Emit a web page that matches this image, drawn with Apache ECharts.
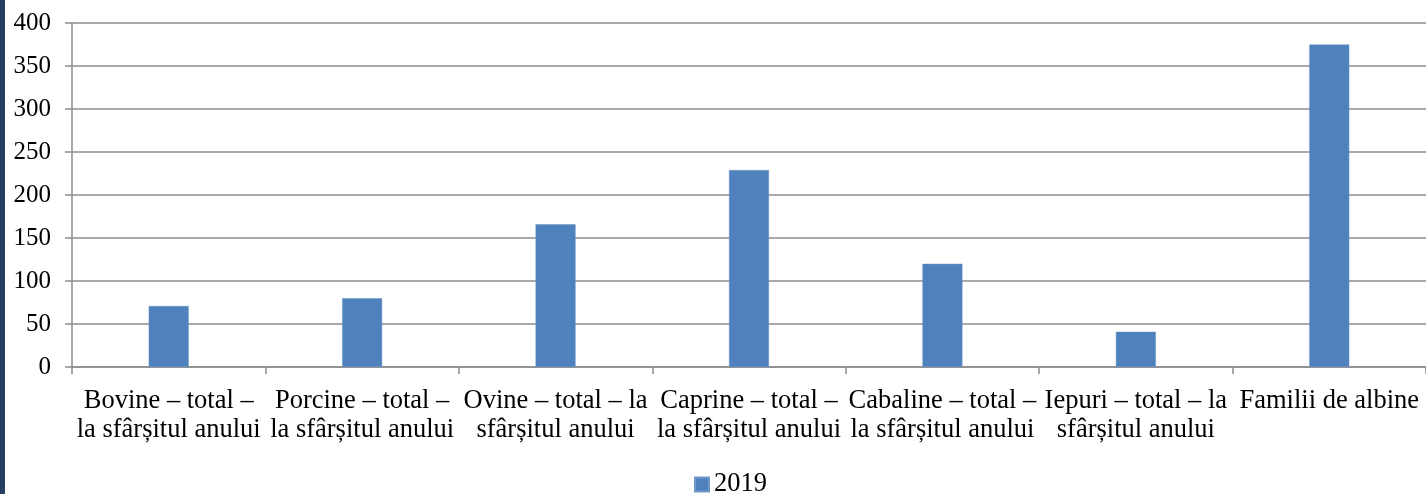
<!DOCTYPE html>
<html>
<head>
<meta charset="utf-8">
<script src="https://cdn.jsdelivr.net/npm/echarts@6/dist/echarts.min.js"></script>
<style>
  html, body { margin: 0; padding: 0; background: #fff; }
  #chart { width: 1426px; height: 494px; }
</style>
</head>
<body>
<div id="chart"></div>
<script>
// categorii (cu rupere de rand ca in original)
const categories = [
  "Bovine – total –\nla sfârșitul anului",
  "Porcine – total –\nla sfârșitul anului",
  "Ovine – total – la\nsfârșitul anului",
  "Caprine – total –\nla sfârșitul anului",
  "Cabaline – total –\nla sfârșitul anului",
  "Iepuri – total – la\nsfârșitul anului",
  "Familii de albine"
];
const seriesName = "2019";
const values2019 = [71, 80, 166, 229, 120, 41, 375];
const yTicks = [0, 50, 100, 150, 200, 250, 300, 350, 400];

const font = "'Liberation Serif', 'Times New Roman', serif";
const gridGray = "#8c8c8c";

const myChart = echarts.init(document.getElementById("chart"));
const option = {
  animation: false,
  textStyle: { fontFamily: font },
  grid: { left: 72, right: -4, top: 23, bottom: 127 },
  legend: {
    top: 471,
    left: 694,
    padding: 0,
    itemWidth: 14,
    itemHeight: 14,
    itemGap: 4,
    icon: "rect",
    textStyle: { fontFamily: font, fontSize: 26.5, color: "#000" },
    data: [seriesName]
  },
  xAxis: {
    type: "category",
    data: categories,
    axisLine: { lineStyle: { color: gridGray, width: 1.5 } },
    axisTick: { show: true, length: 7, lineStyle: { color: gridGray, width: 1.5 } },
    axisLabel: {
      interval: 0,
      margin: 20,
      fontFamily: font,
      fontSize: 26.5,
      lineHeight: 29,
      color: "#000"
    }
  },
  yAxis: {
    type: "value",
    min: yTicks[0],
    max: yTicks[yTicks.length - 1],
    interval: 50,
    axisLine: { show: true, lineStyle: { color: gridGray, width: 1.5 } },
    axisTick: { show: true, length: 7, lineStyle: { color: gridGray, width: 1.5 } },
    splitLine: { lineStyle: { color: gridGray, width: 1.5 } },
    axisLabel: {
      margin: 21,
      fontFamily: font,
      fontSize: 25,
      color: "#000"
    }
  },
  series: [
    {
      name: seriesName,
      type: "bar",
      data: values2019,
      barWidth: 40,
      itemStyle: { color: "#4f81bd", borderColor: "#6f97c9", borderWidth: 0.5 }
    }
  ],
  graphic: [
    {
      type: "rect",
      left: 0,
      top: 0,
      shape: { width: 5, height: 494 },
      style: { fill: "#243f60" }
    }
  ]
};
myChart.setOption(option);
</script>
</body>
</html>
